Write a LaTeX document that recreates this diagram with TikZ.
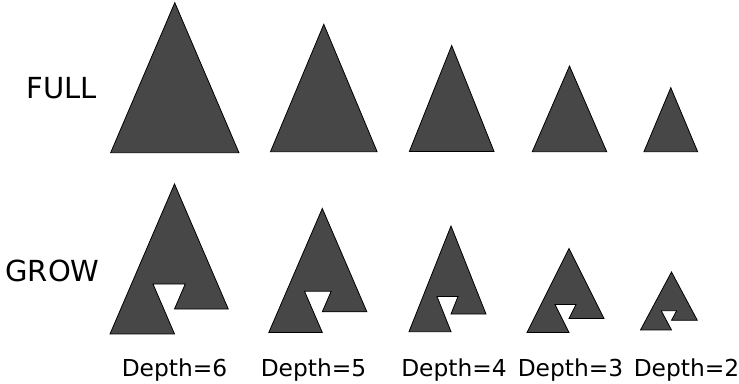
\documentclass[tikz,border=0pt]{standalone}
\usepackage{fontspec}
\setmainfont{DejaVu Sans}

\tikzset{
  tri/.style={fill=black!72, draw=black, line width=0.6pt, line join=miter},
  rowlabel/.style={font=\fontsize{21.75}{26}\selectfont, inner sep=0pt},
  depthlabel/.style={font=\fontsize{17.5}{21}\selectfont, inner sep=0pt, anchor=base}
}

% #1 = centre x, #2 = base y, #3 = width, #4 = height
\newcommand{\fulltri}[4]{%
  \begin{scope}[shift={(#1,#2)}, xscale=#3, yscale=-#4]
    \path[tri] (-0.5,0) -- (0.5,0) -- (0,1) -- cycle;
  \end{scope}}
\newcommand{\growtri}[4]{%
  \begin{scope}[shift={(#1,#2)}, xscale=#3, yscale=-#4]
    \path[tri] (0,1) -- (-0.5,0) -- (0,0) -- (-1/6,1/3) -- (1/12,1/3)
      -- (0,1/6) -- (5/12,1/6) -- cycle;
  \end{scope}}

\begin{document}
\begin{tikzpicture}[x=0.75pt, y=-0.75pt]
    \useasboundingbox (0,0) rectangle (739,384);

    % row labels
    \node[rowlabel] (full) at (62,88) {FULL};
    \node[rowlabel] (grow) at (52.5,271) {GROW};

    % solid triangles
    \foreach \cx/\by/\w/\h in {174.8/152.7/128.3/150, 323.8/151.7/106.6/127.4,
        451.7/151.5/84.7/106, 569.5/151.7/74.4/85.7, 670.8/151.7/53.7/64}
      \fulltri{\cx}{\by}{\w}{\h};

    % notched triangles
    \foreach \cx/\by/\w/\h in {174.5/334/129/150, 322.3/332.5/107/124,
        451/331.7/84/105.7, 569/332.5/84/84, 671.5/330/62/58}
      \growtri{\cx}{\by}{\w}{\h};

    % depth captions
    \foreach \cx/\d in {174.5/6, 313.5/5, 454/4, 570.5/3, 686.5/2}
      \node[depthlabel] (d\d) at (\cx,377) {Depth=\d};
\end{tikzpicture}
\end{document}
